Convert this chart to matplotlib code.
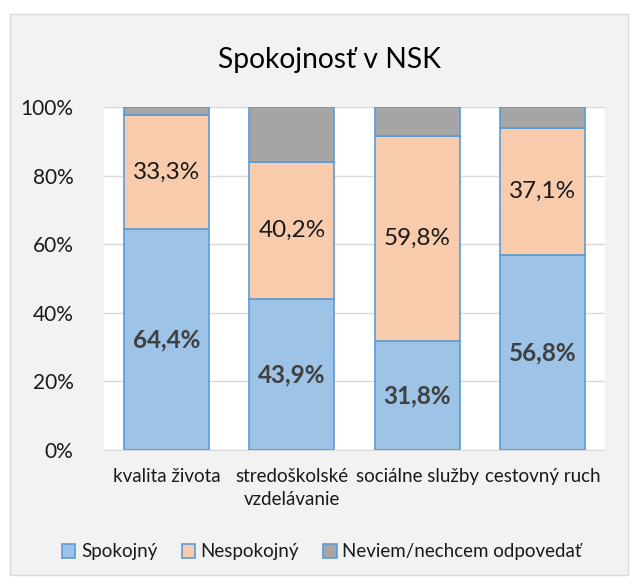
import matplotlib
matplotlib.use("Agg")
import matplotlib.pyplot as plt
import numpy as np
from matplotlib.patches import Rectangle

categories = ["kvalita života", "stredoškolské\nvzdelávanie", "sociálne služby", "cestovný ruch"]
spokojny = [64.4, 43.9, 31.8, 56.8]
nespokojny = [33.3, 40.2, 59.8, 37.1]
neviem = [2.3, 15.9, 8.4, 6.1]
series_names = ["Spokojný", "Nespokojný", "Neviem/nechcem odpovedať"]
yticks = [0, 20, 40, 60, 80, 100]

plt.rcParams['font.family'] = ['Lato', 'DejaVu Sans']

W, H = 638, 585
fig = plt.figure(figsize=(W/100, H/100), dpi=100)
fig.patch.set_facecolor("white")
panel = Rectangle((10/W, 10/H), 618/W, 561/H, transform=fig.transFigure,
                  facecolor="#f2f2f2", edgecolor="#d9d9d9", lw=1, zorder=-10)
fig.patches.append(panel)

ax = fig.add_axes([104/W, 1-450/H, (605-104)/W, (450-107)/H])
ax.set_zorder(1)
ax.set_facecolor("white")
x = np.arange(len(categories))
wid = 0.68
edge = "#5b9bd5"
c1, c2, c3 = "#9dc3e6", "#f8cbad", "#a5a5a5"
s = np.array(spokojny); n = np.array(nespokojny); v = np.array(neviem)
b1 = ax.bar(x, s, wid, color=c1, edgecolor=edge, lw=1.2, zorder=3, label=series_names[0])
b2 = ax.bar(x, n, wid, bottom=s, color=c2, edgecolor=edge, lw=1.2, zorder=3, label=series_names[1])
b3 = ax.bar(x, v, wid, bottom=s+n, color=c3, edgecolor=edge, lw=1.2, zorder=3, label=series_names[2])

for i in range(len(x)):
    ax.text(x[i], s[i]/2, f"{spokojny[i]:.1f}%".replace(".", ","), ha="center", va="center",
            fontsize=17.5, fontweight="bold", color="#404040", zorder=4)
    ax.text(x[i], s[i] + n[i]/2, f"{nespokojny[i]:.1f}%".replace(".", ","), ha="center", va="center",
            fontsize=17.5, color="#1a1a1a", zorder=4)

ax.set_xlim(-0.5, len(x)-0.5)
ax.set_ylim(0, 100)
ax.set_yticks(yticks)
ax.set_yticklabels([f"{t}%" for t in yticks], fontsize=15, color="#1a1a1a")
ax.set_xticks(x)
ax.set_xticklabels(categories, fontsize=13.5, color="#1a1a1a", linespacing=1.45)
ax.tick_params(axis="both", length=0)
ax.tick_params(axis="y", pad=22)
ax.tick_params(axis="x", pad=13)
ax.grid(axis="y", color="#d9d9d9", lw=1, zorder=0)
for sp in ["top", "right", "left"]:
    ax.spines[sp].set_visible(False)
ax.spines["bottom"].set_color("#d9d9d9")

fig.text(329/W, 1-60/H, "Spokojnosť v NSK", ha="center", va="center", fontsize=20.3, color="#000000")

leg = fig.legend(handles=[b1, b2, b3], labels=series_names, loc="center",
                 bbox_to_anchor=(322/W, 1-552/H), ncol=3, frameon=False, fontsize=13.5,
                 handlelength=0.7, handleheight=0.7, handletextpad=0.3, columnspacing=1.3)
for t in leg.get_texts():
    t.set_color("#1a1a1a")

fig.savefig("out.png", dpi=100, facecolor=fig.get_facecolor())
